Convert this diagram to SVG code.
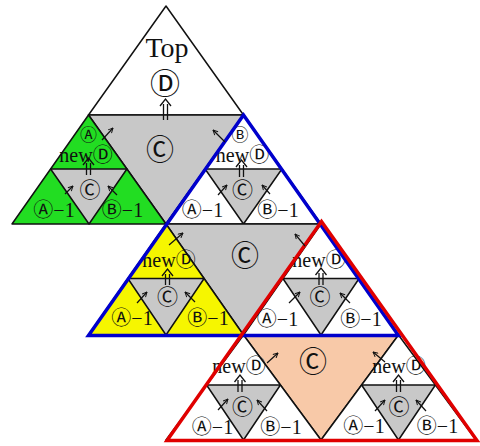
<svg xmlns="http://www.w3.org/2000/svg" width="480" height="446" viewBox="0 0 480 446">
<style>
.e{stroke:#111;stroke-width:1.5;stroke-linejoin:round}
.w{fill:#fff}.g{fill:#c8c8c8}.gr{fill:#22dd22}.y{fill:#f6f600}.p{fill:#f8c9a8}
text{font-family:"Liberation Serif","DejaVu Serif",serif;fill:#111;text-anchor:middle}
.c{font-family:"Noto Sans CJK KR","DejaVu Sans",sans-serif}
.k{font-size:20px}
.s{font-size:20px}.m{font-size:21px}.b{font-size:28px}.t{font-size:17px}
.a{stroke:#111;stroke-width:1.2;fill:none}
.d{stroke:#111;stroke-width:1.3;fill:none}
</style>
<defs>
<marker id="h" viewBox="0 0 10 10" refX="9" refY="5" markerWidth="6" markerHeight="6" orient="auto" markerUnits="userSpaceOnUse">
<path d="M1,1 L9,5 L1,9" fill="none" stroke="#111" stroke-width="1.6"/>
</marker>
</defs>
<g id="top">
<polygon class="e w" points="166,6 88.5,115 243.5,115"/>
<text x="167" y="57" style="font-size:28px">Top</text>
<text class="c" x="165" y="94" style="font-size:30px">Ⓓ</text>
</g>
<g id="center1">
<polygon class="e g" points="88.5,115 243.5,115 166,224"/>
<text class="b c" x="160" y="160">Ⓒ</text>
</g>
<g id="green">
<polygon class="e gr" points="88.5,115 12,224 166,224"/>
<polygon class="e g" points="50.6,169 126.9,169 89,224"/>
<text class="t c" x="88.5" y="141">Ⓐ</text>
<text class="s" x="86" y="162">new<tspan class="c k">Ⓓ</tspan></text>
<text class="m c" x="90" y="197">Ⓒ</text>
<text class="s" x="54" y="217"><tspan class="c k">Ⓐ</tspan>−1</text>
<text class="s" x="122.5" y="217"><tspan class="c k">Ⓑ</tspan>−1</text>
</g>
<g id="blueTop">
<polygon class="e w" points="243.5,115 166,224 321,224"/>
<polygon class="e g" points="205.1,169 281.9,169 243.5,224"/>
<text class="t c" x="240" y="141">Ⓑ</text>
<text class="s" x="242.5" y="162">new<tspan class="c k">Ⓓ</tspan></text>
<text class="m c" x="242.5" y="197">Ⓒ</text>
<text class="s" x="202.5" y="217"><tspan class="c k">Ⓐ</tspan>−1</text>
<text class="s" x="278" y="217"><tspan class="c k">Ⓑ</tspan>−1</text>
</g>
<g id="center2">
<polygon class="e g" points="166,224 321,224 243.5,335"/>
<text class="b c" x="245" y="266">Ⓒ</text>
</g>
<g id="yellow">
<polygon class="e y" points="166,224 88.5,335 243.5,335"/>
<polygon class="e g" points="127.9,278.5 204.1,278.5 166,335"/>
<text class="s" x="169" y="267">new<tspan class="c k">Ⓓ</tspan></text>
<text class="m c" x="167.5" y="304">Ⓒ</text>
<text class="s" x="132" y="325"><tspan class="c k">Ⓐ</tspan>−1</text>
<text class="s" x="208" y="325"><tspan class="c k">Ⓑ</tspan>−1</text>
</g>
<g id="redTop">
<polygon class="e w" points="321,224 243.5,335 398.5,335"/>
<polygon class="e g" points="282.9,278.5 359.1,278.5 321,335"/>
<text class="s" x="319" y="267">new<tspan class="c k">Ⓓ</tspan></text>
<text class="m c" x="320" y="304">Ⓒ</text>
<text class="s" x="277.5" y="326"><tspan class="c k">Ⓐ</tspan>−1</text>
<text class="s" x="361" y="326"><tspan class="c k">Ⓑ</tspan>−1</text>
</g>
<g id="peach">
<polygon class="e p" points="243.5,335 398.5,335 321,440"/>
<text class="b c" x="313" y="372">Ⓒ</text>
</g>
<g id="redLeft">
<polygon class="e w" points="243.5,335 166,440 321,440"/>
<polygon class="e g" points="206.6,385 280.4,385 243.5,440"/>
<text class="s" x="239" y="373">new<tspan class="c k">Ⓓ</tspan></text>
<text class="m c" x="242.5" y="414">Ⓒ</text>
<text class="s" x="212.5" y="434"><tspan class="c k">Ⓐ</tspan>−1</text>
<text class="s" x="281" y="434"><tspan class="c k">Ⓑ</tspan>−1</text>
</g>
<g id="redRight">
<polygon class="e w" points="398.5,335 321,440 476,440"/>
<polygon class="e g" points="361.6,385 435.4,385 398.5,440"/>
<text class="s" x="399" y="373">new<tspan class="c k">Ⓓ</tspan></text>
<text class="m c" x="399" y="414">Ⓒ</text>
<text class="s" x="364" y="433"><tspan class="c k">Ⓐ</tspan>−1</text>
<text class="s" x="437.5" y="433"><tspan class="c k">Ⓑ</tspan>−1</text>
</g>
<g id="outlines">
<polygon points="243.5,115 88.5,335.5 398.5,335.5" fill="none" stroke="#0000cc" stroke-width="3.5" stroke-linejoin="miter"/>
<polygon points="321.5,221.5 167,440.5 477,440.5" fill="none" stroke="#e00000" stroke-width="3.5" stroke-linejoin="miter"/>
</g>
<g id="connectors">
<path class="d" d="M163.5,120V104M167.5,120V104M160,106L165.5,99L171,106"/>
<path class="d" d="M86.5,175V163M90.5,175V163M83,165L88.5,158L94,165"/>
<path class="d" d="M239.5,177V165M243.5,177V165M236,167L241.5,160L247,167"/>
<path class="d" d="M165.5,285V274M169.5,285V274M162,276L167.5,269L173,276"/>
<path class="d" d="M319,285V273M323,285V273M315.5,275L321,268L326.5,275"/>
<path class="d" d="M238,392V380M242,392V380M234.5,382L240,375L245.5,382"/>
<path class="d" d="M396.5,392V380M400.5,392V380M393,382L398.5,375L404,382"/>
<line class="a" x1="102" y1="140" x2="113" y2="128" marker-end="url(#h)"/>
<line class="a" x1="225" y1="142" x2="213" y2="130" marker-end="url(#h)"/>
<line class="a" x1="169" y1="245" x2="183" y2="233" marker-end="url(#h)"/>
<line class="a" x1="305" y1="246" x2="295" y2="234" marker-end="url(#h)"/>
<line class="a" x1="267" y1="363" x2="278" y2="353" marker-end="url(#h)"/>
<line class="a" x1="385" y1="362" x2="373" y2="352" marker-end="url(#h)"/>
<line class="a" x1="65" y1="194" x2="73" y2="186" marker-end="url(#h)"/>
<line class="a" x1="117" y1="195" x2="108" y2="186" marker-end="url(#h)"/>
<line class="a" x1="218" y1="195" x2="227" y2="185" marker-end="url(#h)"/>
<line class="a" x1="270" y1="194" x2="262" y2="185" marker-end="url(#h)"/>
<line class="a" x1="137" y1="303" x2="147" y2="292" marker-end="url(#h)"/>
<line class="a" x1="195" y1="302" x2="185" y2="292" marker-end="url(#h)"/>
<line class="a" x1="289" y1="303" x2="300" y2="292" marker-end="url(#h)"/>
<line class="a" x1="350" y1="303" x2="340" y2="293" marker-end="url(#h)"/>
<line class="a" x1="218" y1="410" x2="228" y2="399" marker-end="url(#h)"/>
<line class="a" x1="267" y1="411" x2="257" y2="400" marker-end="url(#h)"/>
<line class="a" x1="375" y1="411" x2="385" y2="400" marker-end="url(#h)"/>
<line class="a" x1="426" y1="411" x2="416" y2="400" marker-end="url(#h)"/>
</g>
</svg>
